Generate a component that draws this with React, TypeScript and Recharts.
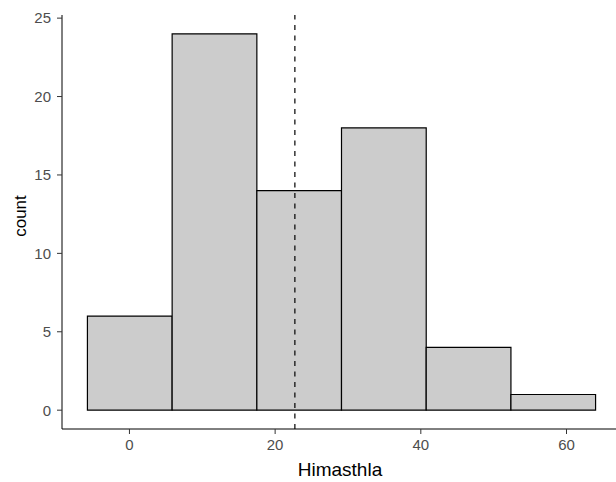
import React from "react";
import {
  ComposedChart,
  XAxis,
  YAxis,
  ReferenceArea,
  ReferenceLine,
} from "recharts";

// histogram bins
const binStarts = [-5.77, 5.86, 17.49, 29.11, 40.74, 52.37];
const binEnds = [5.86, 17.49, 29.11, 40.74, 52.37, 63.99];
const counts = [6, 24, 14, 18, 4, 1];
const xTicks = [0, 20, 40, 60];
const yTicks = [0, 5, 10, 15, 20, 25];
const meanValue = 22.71;

const bins = binStarts.map((start, i) => ({
  start,
  end: binEnds[i],
  mid: (start + binEnds[i]) / 2,
  count: counts[i],
}));

const FONT = "'Liberation Sans', Arial, sans-serif";

const XTitle = () => (
  <text x={340} y={476} textAnchor="middle" fontSize={19} fontFamily={FONT} fill="#000">
    Himasthla
  </text>
);

const YTitle = () => (
  <text
    transform="translate(26, 216) rotate(-90)"
    textAnchor="middle"
    fontSize={17}
    fontFamily={FONT}
    fill="#000"
  >
    count
  </text>
);

export default function App() {
  return (
    <div
      style={{
        position: "absolute",
        left: 0,
        top: 0,
        width: 616,
        height: 482,
        overflow: "hidden",
        background: "#fff",
      }}
    >
      <ComposedChart
        width={640}
        height={482}
        data={bins}
        margin={{ top: 15, right: 19, bottom: 0, left: 0 }}
      >
        <XAxis
          type="number"
          dataKey="mid"
          domain={[-9.26, 67.48]}
          ticks={xTicks}
          allowDataOverflow
          height={53}
          stroke="#000"
          tickSize={5}
          tickMargin={5}
          tickLine={{ stroke: "#333" }}
          tick={{ fill: "#4d4d4d", fontSize: 15, fontFamily: FONT }}
          label={<XTitle />}
        />
        <YAxis
          type="number"
          domain={[-1.2, 25.2]}
          ticks={yTicks}
          allowDataOverflow
          width={62}
          stroke="#000"
          tickSize={5}
          tickMargin={6}
          tickLine={{ stroke: "#333" }}
          tick={{ fill: "#4d4d4d", fontSize: 15, fontFamily: FONT }}
          label={<YTitle />}
        />
        {bins.map((b, i) => (
          <ReferenceArea
            key={i}
            x1={b.start}
            x2={b.end}
            y1={0}
            y2={b.count}
            fill="#cccccc"
            fillOpacity={1}
            stroke="#000"
            strokeWidth={1.2}
            ifOverflow="visible"
          />
        ))}
        <ReferenceLine
          x={meanValue}
          stroke="#000"
          strokeWidth={1.2}
          strokeDasharray="5 5.5"
        />
      </ComposedChart>
    </div>
  );
}
